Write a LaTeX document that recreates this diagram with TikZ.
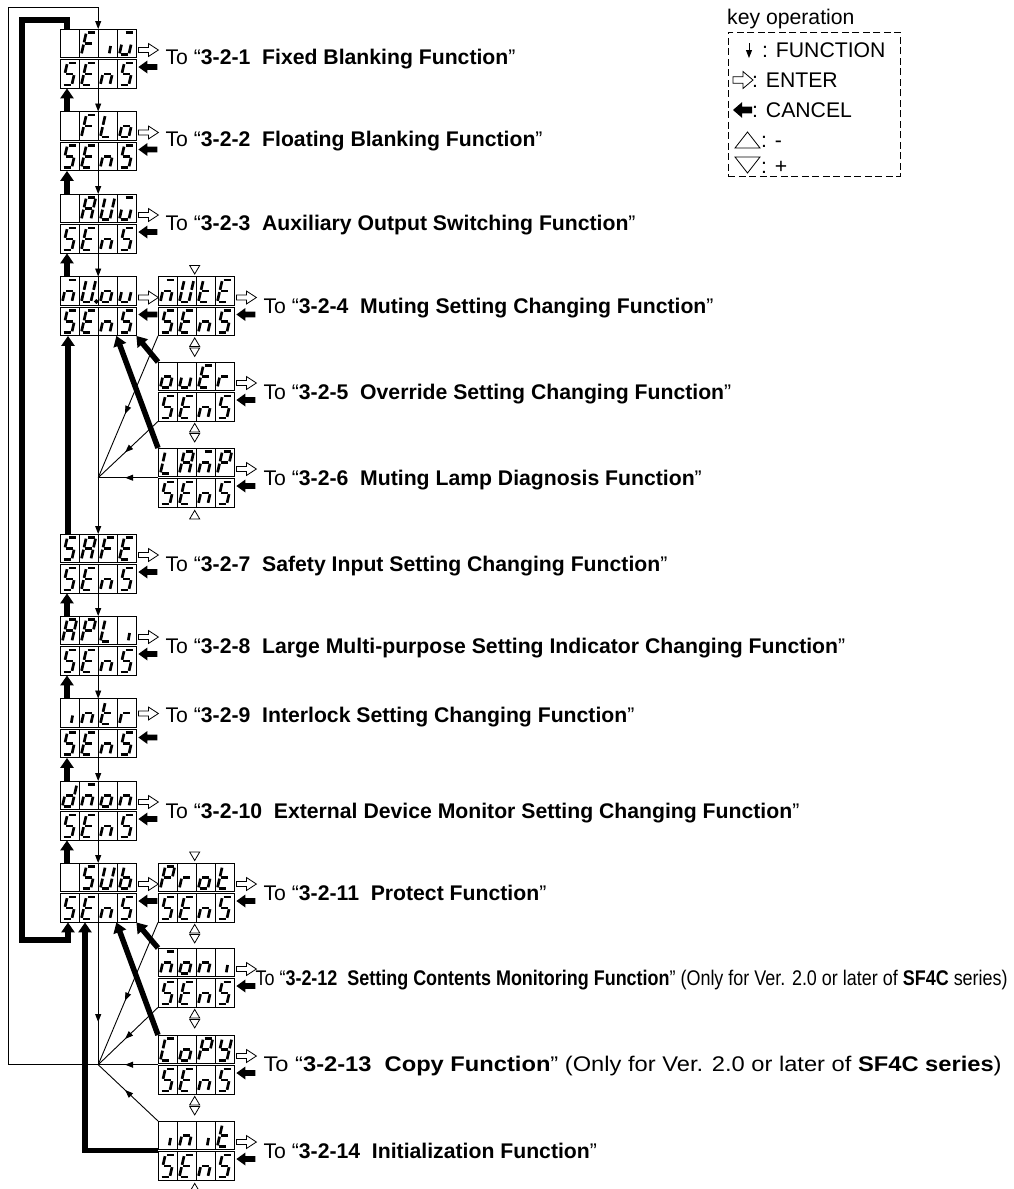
\documentclass[tikz,border=0pt]{standalone}
\usepackage{fontspec}
\setmainfont{Liberation Sans}
\usepackage{graphicx}
\usetikzlibrary{arrows.meta,decorations.markings}

% segments of one 7-segment cell (cell-local, y grows downwards)
\tikzset{
  seg/none/.style={},
  seg/a/.style={insert path={(8.5,3.5)--(15.6,3.5)}},
  seg/b/.style={insert path={(16.53,4.67)--(14.57,13.33)}},
  seg/c/.style={insert path={(14.03,15.67)--(12.07,24.33)}},
  seg/d/.style={insert path={(3.5,25.5)--(10.6,25.5)}},
  seg/e/.style={insert path={(4.53,15.67)--(2.57,24.33)}},
  seg/f/.style={insert path={(7.03,4.67)--(5.07,13.33)}},
  seg/g/.style={insert path={(6.0,14.5)--(13.1,14.5)}},
  seg/i/.style={insert path={(12.6,17)--(11.3,24.3)}},
  seg/dp/.style={insert path={(17.4,25) circle[radius=0.5]}},
  enterarr/.pic={\draw[line width=0.8pt, fill=white] (0,-2.5) -- (10,-2.5) -- (10,-6.5) -- (20,0) -- (10,6.5) -- (10,2.5) -- (0,2.5) -- cycle;},
  cancelarr/.pic={\fill (0,0) -- (9,-6.5) -- (9,-2.8) -- (19,-2.8) -- (19,2.8) -- (9,2.8) -- (9,6.5) -- cycle;},
  uptri/.pic={\draw[line width=0.8pt, fill=white] (-5,8.5) -- (5,8.5) -- (0,0) -- cycle;},
  dntri/.pic={\draw[line width=0.8pt, fill=white] (-5,0) -- (5,0) -- (0,8.5) -- cycle;}
}

% characters as segment lists
\def\lcdnone{none}
\def\lcdS{a,f,g,c,d}
\def\lcdE{a,f,g,e,d}
\def\lcdn{g,e,c}
\def\lcdF{a,f,g,e}
\def\lcdi{i}
\def\lcdL{f,e,d}
\def\lcdo{g,c,d,e}
\def\lcdA{a,b,c,e,f,g}
\def\lcdU{b,c,d,e,f}
\def\lcdUd{b,c,d,e,f,dp}
\def\lcduu{a,c,d,e}
\def\lcdmm{a,g,e,c}
\def\lcdu{c,d,e}
\def\lcdt{f,g,e,d}
\def\lcdr{g,e}
\def\lcdP{a,b,f,g,e}
\def\lcdd{b,c,d,e,g}
\def\lcdb{f,g,e,c,d}
\def\lcdC{a,f,e,d}
\def\lcdY{f,b,g,c,d}

% #1 name, #2 x, #3 y, #4 top row characters; bottom row is always SEnS
\newcommand{\lcdpanel}[4]{%
  \node[panelbox] (#1) at (#2,#3) {};
  \draw[panelline] (#2,#3) rectangle ++(76,28.5) (#2,#3+30.5) rectangle ++(76,28.5);
  \foreach \k in {1,2,3}
    \draw[panelline] (#2+19*\k,#3) -- ++(0,28.5) (#2+19*\k,#3+30.5) -- ++(0,28.5);
  \foreach \c [count=\k from 0] in {#4} {
    \edef\seglist{\csname lcd\c\endcsname}
    \foreach \s in \seglist {\draw[segline, shift={(#2+19*\k,#3)}, seg/\s];}
  }
  \foreach \c [count=\k from 0] in {S,E,n,S} {
    \edef\seglist{\csname lcd\c\endcsname}
    \foreach \s in \seglist {\draw[segline, shift={(#2+19*\k,#3+30.5)}, seg/\s];}
  }
}

\begin{document}
\begin{tikzpicture}[x=1pt, y=-1pt,
  panelbox/.style={anchor=north west, minimum width=76pt, minimum height=59pt, inner sep=0pt},
  panelline/.style={line width=0.9pt},
  segline/.style={line width=2.7pt},
  fnline/.style={line width=0.9pt},
  fnarrow/.style={fnline, -{Triangle[length=8pt,width=6pt]}},
  midarrow/.style={postaction={decorate}, decoration={markings,
      mark=at position #1 with {\arrow{Triangle[length=8pt,width=6pt]}}}},
  midarrow/.default=0.6,
  cancelarrow/.style={line width=5.5pt, -{Triangle[length=10pt,width=13pt]}},
  lbl/.style={font=\fontsize{21.2}{25}\selectfont, inner sep=0pt, anchor=base west},
  keybox/.style={draw, dash pattern=on 7pt off 3.5pt, line width=0.8pt}
]
\useasboundingbox (0,0) rectangle (1013,1189);

% main column
\lcdpanel{fiu}{60}{29}{none,F,i,uu}
\lcdpanel{flo}{60}{111.5}{none,F,L,o}
\lcdpanel{auu}{60}{194}{none,A,U,uu}
\lcdpanel{muou}{60}{276.5}{mm,Ud,o,u}
\lcdpanel{safe}{60}{534}{S,A,F,E}
\lcdpanel{apli}{60}{616}{A,P,L,i}
\lcdpanel{intr}{60}{698.5}{i,n,t,r}
\lcdpanel{dnon}{60}{781}{d,mm,o,n}
\lcdpanel{sub}{60}{863}{none,S,U,b}
% sub menus
\lcdpanel{mute}{158}{276.5}{mm,U,t,E}
\lcdpanel{ouer}{158}{362}{o,u,E,r}
\lcdpanel{lamp}{158}{448}{L,A,mm,P}
\lcdpanel{prot}{158}{863}{P,r,o,t}
\lcdpanel{moni}{158}{948}{mm,o,n,i}
\lcdpanel{copy}{158}{1035}{C,o,P,Y}
\lcdpanel{init}{158}{1121}{i,n,i,t}

\coordinate (hubm) at (muou.south |- lamp.west);
\coordinate (hubs) at (sub.south |- copy.west);
\coordinate (fiutop) at ([yshift=22pt]fiu.north);
\coordinate (subcan) at ([xshift=8pt]sub.south west);

% FUNCTION
\foreach \a/\b in {fiu/flo, flo/auu, auu/muou, muou/safe, safe/apli, apli/intr, intr/dnon, dnon/sub}
  \draw[fnarrow] (\a.south) -- (\b.north);
\draw[fnline, midarrow=0.7] (sub.south) -- (hubs);
\draw[fnarrow] (hubs) -- ++(-90,0) |- (fiutop) -- (fiu.north);
\foreach \p in {mute.south west, ouer.south west, lamp.west}
  \draw[fnline, midarrow=0.55] (\p) -- (hubm);
\foreach \p in {prot.south west, moni.south west, copy.west, init.north west}
  \draw[fnline, midarrow=0.55] (\p) -- (hubs);

% CANCEL
\foreach \a/\b in {flo/fiu, auu/flo, muou/auu, apli/safe, intr/apli, dnon/intr, sub/dnon}
  \draw[cancelarrow] ([xshift=7pt]\a.north west) -- ([xshift=7pt]\b.south west);
\draw[cancelarrow] ([xshift=8pt]safe.north west) -- ([xshift=8pt]muou.south west);
\draw[cancelarrow] (ouer.north west) -- (muou.south east);
\draw[cancelarrow] (lamp.north west) -- ([xshift=-20pt]muou.south east);
\draw[cancelarrow] (moni.north west) -- (sub.south east);
\draw[cancelarrow] (copy.north west) -- ([xshift=-20pt]sub.south east);
\draw[cancelarrow] (init.west) -| ([xshift=25pt]sub.south west);
\draw[cancelarrow] ([xshift=7pt]fiu.north west) -- ++(0,-9) -- ++(-45,0) -- ++(0,920) -| (subcan);

% ENTER / CANCEL keys beside each panel
\foreach \p in {fiu,flo,auu,muou,safe,apli,dnon,sub,mute,ouer,lamp,prot,moni,copy,init} {
  \pic at ([shift={(2,21)}]\p.north east) {enterarr};
  \pic at ([shift={(2,38)}]\p.north east) {cancelarr};
}
\pic at ([shift={(2,15)}]intr.north east) {enterarr};
\pic at ([shift={(2,39)}]intr.north east) {cancelarr};

% up / down keys between sub menus
\foreach \p in {mute,prot}
  \pic at ([shift={(-1.5,-11)}]\p.north) {dntri};
\foreach \p in {mute,ouer,prot,moni,copy} {
  \pic at ([shift={(-1.5,2)}]\p.south) {uptri};
  \pic at ([shift={(-1.5,12)}]\p.south) {dntri};
}
\foreach \p in {lamp,init}
  \pic at ([shift={(-1.5,3)}]\p.south) {uptri};

% destinations
\foreach \p/\dy/\txt in {fiu/35/{3-2-1\ \ Fixed Blanking Function},
    flo/35/{3-2-2\ \ Floating Blanking Function},
    auu/36/{3-2-3\ \ Auxiliary Output Switching Function},
    safe/37/{3-2-7\ \ Safety Input Setting Changing Function},
    apli/37/{3-2-8\ \ Large Multi-purpose Setting Indicator Changing Function},
    intr/24/{3-2-9\ \ Interlock Setting Changing Function},
    dnon/37/{3-2-10\ \ External Device Monitor Setting Changing Function}}
  \node[lbl] (\p-l) at ([shift={(29,\dy)}]\p.north east) {To “\textbf{\txt}”};
\foreach \p/\dy/\txt in {mute/37/{3-2-4\ \ Muting Setting Changing Function},
    ouer/37/{3-2-5\ \ Override Setting Changing Function},
    lamp/37/{3-2-6\ \ Muting Lamp Diagnosis Function},
    prot/37/{3-2-11\ \ Protect Function},
    init/37/{3-2-14\ \ Initialization Function}}
  \node[lbl] (\p-l) at ([shift={(29,\dy)}]\p.north east) {To “\textbf{\txt}”};
\node[lbl] (moni-l) at ([shift={(21,37)}]moni.north east)
  {\resizebox{752pt}{\height}{To “\textbf{3-2-12\ \ Setting Contents Monitoring Function}” (Only for Ver. 2.0 or later of \textbf{SF4C} series)}};
\node[lbl] (copy-l) at ([shift={(29,36)}]copy.north east)
  {\resizebox{738pt}{\height}{To “\textbf{3-2-13\ \ Copy Function}” (Only for Ver. 2.0 or later of \textbf{SF4C series})}};

% key operation legend
\node[lbl] (keyttl) at (727,24) {key operation};
\node[keybox, anchor=north west, minimum width=172pt, minimum height=144pt] (keys) at (728,32) {};
\coordinate (fnkey) at (749,43);
\draw[fnarrow] (fnkey) -- ++(0,15);
\node[lbl] (fnkey-l) at (762,57.5) {: FUNCTION};
\pic[yscale=1.3] at (733,80) {enterarr};
\node[lbl] (entkey-l) at (752,87.5) {: ENTER};
\pic[yscale=1.2] at (733,110) {cancelarr};
\node[lbl] (cankey-l) at (752,117.5) {: CANCEL};
\draw[line width=0.8pt] (735,148) -- (760,148) -- (747.5,132) -- cycle;
\node[lbl] (upkey-l) at (761,147.5) {: -};
\draw[line width=0.8pt] (735,157) -- (760,157) -- (747.5,173) -- cycle;
\node[lbl] (dnkey-l) at (761,173.5) {: +};
\end{tikzpicture}
\end{document}
